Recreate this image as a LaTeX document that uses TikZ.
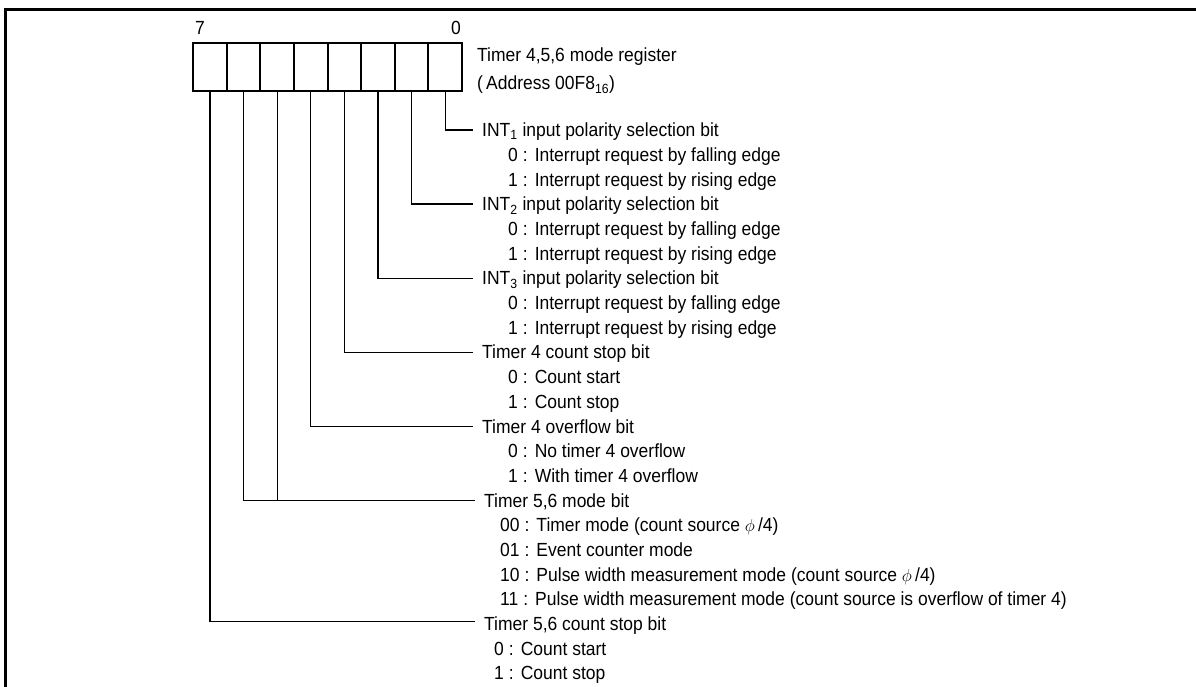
\documentclass[tikz,border=0pt]{standalone}
\usepackage{fontspec}
\setmainfont{Liberation Sans}[FakeStretch=0.92]
\begin{document}
\begin{tikzpicture}[x=1pt,y=-1pt,
  txt/.style={font=\fontsize{19}{23}\selectfont, inner sep=0pt, text height=13.6pt, text depth=0pt, anchor=west},
  head/.style={txt, inner xsep=9pt},
  cell/.style={draw, line width=2pt, minimum width=33.6pt, minimum height=48pt, inner sep=0pt, anchor=north west},
  conn/.style={line width=1.2pt},
  frame/.style={line width=3pt}]
\useasboundingbox (0,0) rectangle (1196,687);
% frame
\draw[frame] (5.5,690) -- (5.5,9.5) -- (1200,9.5);
% register cells
\foreach \i in {0,...,7} {
  \node[cell] (b\i) at ({461-33.6*(\i+1)},42) {};
}
\node[txt] (n7) at (195,28) {7};
\node[txt, anchor=east] (n0) at (461,28) {0};
\node[txt] (title) at (477,55) {Timer 4,5,6 mode register};
\node[txt] (addr) at (477,83) {(\,Address 00F8\textsubscript{16})};
% headings
\node[head] (h0) at (473,130) {INT\textsubscript{1} input polarity selection bit};
\node[head] (h1) at (473,204.0) {INT\textsubscript{2} input polarity selection bit};
\node[head] (h2) at (473,278.1) {INT\textsubscript{3} input polarity selection bit};
\node[head] (h3) at (473,352.1) {Timer 4 count stop bit};
\node[head] (h4) at (473,426.2) {Timer 4 overflow bit};
\node[head] (h5) at (475,500.2) {Timer 5,6 mode bit};
\node[head] (h7) at (475,623.6) {Timer 5,6 count stop bit};
% options
\node[txt] (o0a) at (508,154.7) {0\hspace{5pt}:\hspace{7pt}Interrupt request by falling edge};
\node[txt] (o0b) at (508,179.4) {1\hspace{5pt}:\hspace{7pt}Interrupt request by rising edge};
\node[txt] (o1a) at (508,228.7) {0\hspace{5pt}:\hspace{7pt}Interrupt request by falling edge};
\node[txt] (o1b) at (508,253.4) {1\hspace{5pt}:\hspace{7pt}Interrupt request by rising edge};
\node[txt] (o2a) at (508,302.8) {0\hspace{5pt}:\hspace{7pt}Interrupt request by falling edge};
\node[txt] (o2b) at (508,327.4) {1\hspace{5pt}:\hspace{7pt}Interrupt request by rising edge};
\node[txt] (o3a) at (508,376.8) {0\hspace{5pt}:\hspace{7pt}Count start};
\node[txt] (o3b) at (508,401.5) {1\hspace{5pt}:\hspace{7pt}Count stop};
\node[txt] (o4a) at (508,450.8) {0\hspace{5pt}:\hspace{7pt}No timer 4 overflow};
\node[txt] (o4b) at (508,475.5) {1\hspace{5pt}:\hspace{7pt}With timer 4 overflow};
\node[txt] (o5a) at (500,524.9) {00\hspace{5pt}:\hspace{7pt}Timer mode\hspace{5pt}(count source $\phi$\,/4)};
\node[txt] (o5b) at (500,549.6) {01\hspace{5pt}:\hspace{7pt}Event counter mode};
\node[txt] (o5c) at (500,574.2) {10\hspace{5pt}:\hspace{7pt}Pulse width measurement mode\hspace{5pt}(count source $\phi$\,/4)};
\node[txt] (o5d) at (500,598.9) {11\hspace{5pt}:\hspace{7pt}Pulse width measurement mode\hspace{5pt}(count source is overflow of timer 4)};
\node[txt] (o7a) at (494,648.3) {0\hspace{5pt}:\hspace{7pt}Count start};
\node[txt] (o7b) at (494,673.0) {1\hspace{5pt}:\hspace{7pt}Count stop};
% connectors
\draw[conn] (b0.south) |- (h0.west);
\draw[conn] (b1.south) |- (h1.west);
\draw[conn] (b2.south) |- (h2.west);
\draw[conn] (b3.south) |- (h3.west);
\draw[conn] (b4.south) |- (h4.west);
\draw[conn] (b6.south) |- (h5.west);
\draw[conn] (b5.south) -- (b5.south |- h5.west);
\draw[conn] (b7.south) |- ([yshift=2pt]h7.west);
\end{tikzpicture}
\end{document}
